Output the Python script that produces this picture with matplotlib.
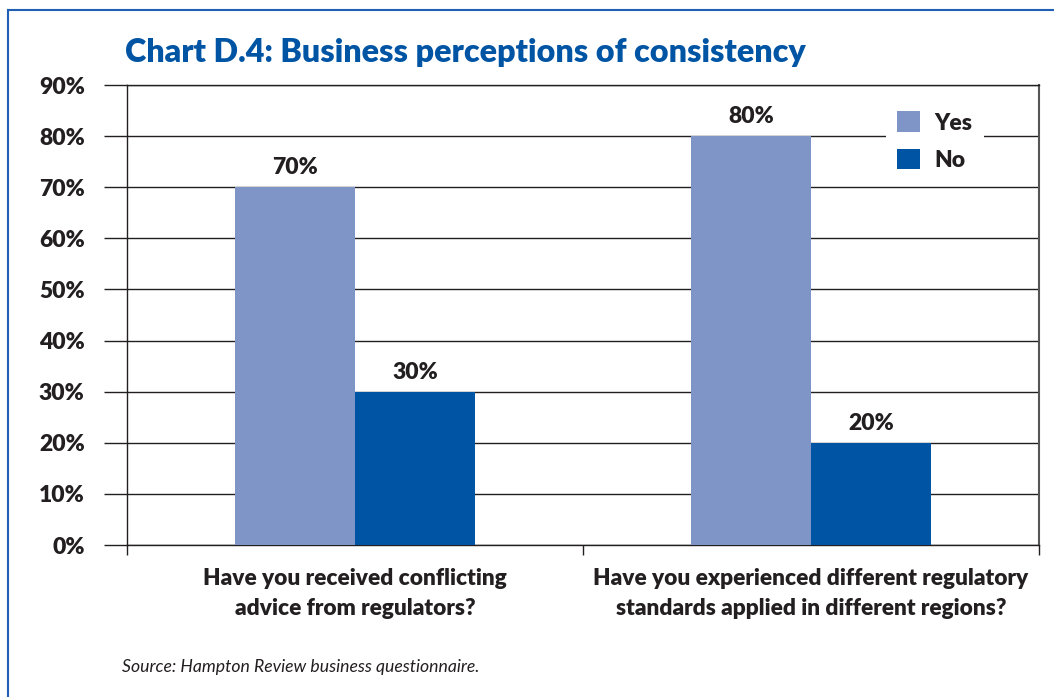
import matplotlib
matplotlib.use("Agg")
import matplotlib.pyplot as plt
from matplotlib.lines import Line2D
import numpy as np

categories = ["Have you received conflicting\nadvice from regulators?",
              "Have you experienced different regulatory\nstandards applied in different regions?"]
yes_vals = [70, 80]
no_vals = [30, 20]
series_names = ["Yes", "No"]
yticks = [0, 10, 20, 30, 40, 50, 60, 70, 80, 90]

FONT = ["Lato", "DejaVu Sans"]
WT = "heavy"
DARK = "#231f20"
YES_C = "#7f95c8"
NO_C = "#0054a4"
BLUE = "#0054a4"

W, H = 1054, 697
fig = plt.figure(figsize=(W / 100, H / 100), dpi=100)

def fx(px):
    return px / W

def fy(py):
    return 1 - py / H

ax = fig.add_axes([fx(127), fy(545), fx(1039) - fx(127), fy(85) - fy(545)])

x = np.arange(len(categories)) + 0.5
bw = 120 / 456
b1 = ax.bar(x - bw / 2, yes_vals, bw, color=YES_C, label=series_names[0], zorder=3)
b2 = ax.bar(x + bw / 2, no_vals, bw, color=NO_C, label=series_names[1], zorder=3)

for bars, vals in ((b1, yes_vals), (b2, no_vals)):
    for rect, v in zip(bars, vals):
        ax.annotate(f"{v}%", (rect.get_x() + rect.get_width() / 2, v),
                    xytext=(0, 13), textcoords="offset pixels",
                    ha="center", va="baseline", fontsize=16.5, fontweight=WT,
                    family=FONT, color=DARK)

ax.set_xlim(0, 2)
ax.set_ylim(0, 90)
ax.set_yticks(yticks)
ax.set_yticklabels([f"{t}%" for t in yticks], fontsize=16.5, fontweight=WT,
                   family=FONT, color=DARK)
ax.tick_params(axis="y", direction="out", length=16.5, width=1, color=DARK, pad=14)
ax.set_xticks([0, 1, 2])
ax.set_xticklabels([])
ax.tick_params(axis="x", direction="out", length=7, width=1, color=DARK)
ax.yaxis.grid(True, color=DARK, linewidth=1, zorder=1)
ax.set_axisbelow(True)
for s in ["left", "bottom", "top"]:
    ax.spines[s].set_color(DARK)
    ax.spines[s].set_linewidth(1)
ax.spines["right"].set_color("#555555")
ax.spines["right"].set_linewidth(1.5)

xform = ax.get_xaxis_transform()
for xi, lab in zip(x, categories):
    for k, line in enumerate(lab.split("\n")):
        ax.annotate(line, (xi, 0), xycoords=xform,
                    xytext=(0, -(40 + 30 * k)), textcoords="offset pixels",
                    ha="center", va="baseline", fontsize=16.3, fontweight=WT,
                    family=FONT, color=DARK, annotation_clip=False)

leg = ax.legend(loc="upper left", bbox_to_anchor=(fx(886), fy(100)),
                bbox_transform=fig.transFigure, frameon=True, fancybox=False,
                edgecolor="none", facecolor="white", framealpha=1,
                prop={"family": FONT, "size": 16.5, "weight": WT},
                handlelength=1.0, handleheight=1.0, handletextpad=0.6,
                labelspacing=0.66, borderpad=0.5, borderaxespad=0)
for t in leg.get_texts():
    t.set_color(DARK)
leg.set_zorder(5)

fig.text(fx(125), fy(62), "Chart D.4: Business perceptions of consistency",
         ha="left", va="baseline", fontsize=23.2, fontweight=WT, family=FONT, color=BLUE)
fig.text(fx(122), fy(672), "Source: Hampton Review business questionnaire.",
         ha="left", va="baseline", fontsize=12.7, style="italic", family=FONT, color=DARK)

fig.add_artist(Line2D([fx(8), fx(8)], [fy(10), 0], color="#1f5fb5", linewidth=1.5))
fig.add_artist(Line2D([fx(8), 1], [fy(10), fy(10)], color="#1f5fb5", linewidth=1.5))

fig.savefig("out.png", dpi=100)
